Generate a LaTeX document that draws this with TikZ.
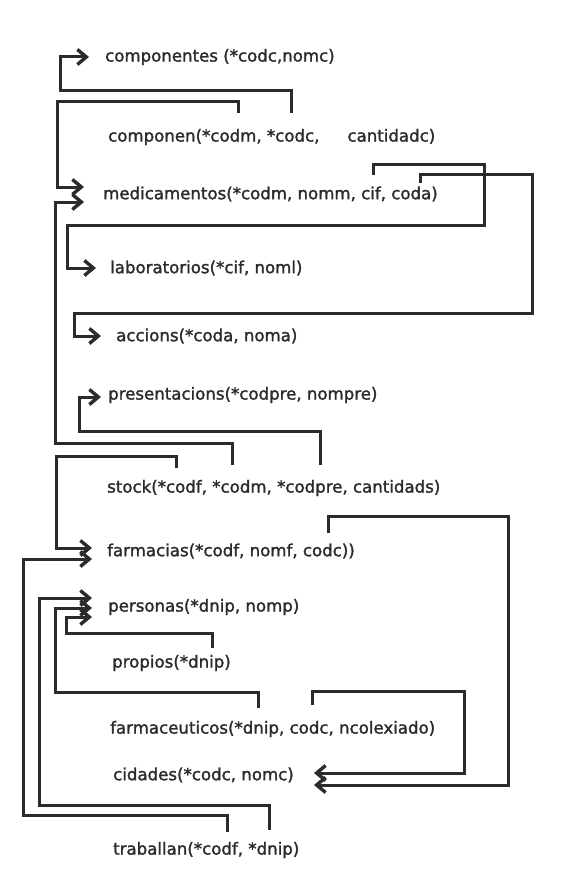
\documentclass[tikz,border=0pt]{standalone}
\usepackage{fontspec}
\setmainfont{DejaVu Sans}[FakeBold=1.6]
\usetikzlibrary{arrows.meta,calc}
\definecolor{ink}{HTML}{2B2B2B}
\begin{document}
\begin{tikzpicture}[x=1pt,y=-1pt,
  rel/.style={anchor=west,inner sep=0pt,font=\fontsize{16.6}{18}\selectfont,text=ink},
  fk/.style={draw=ink,line width=3pt,-{Straight Barb[length=9pt,width=15pt,line width=3.4pt]}}]
\fill[white] (0,0) rectangle (588,869);
\useasboundingbox (0,0) rectangle (588,869);

% relations
\node[rel] (componentes) at (105,57) {componentes (*codc,nomc)};
\node[rel] (componen) at (108,137) {componen(*codm, *codc,\hspace{28pt}cantidadc)};
\node[rel] (medicamentos) at (103,194) {medicamentos(*codm, nomm, cif, coda)};
\node[rel] (laboratorios) at (110,268) {laboratorios(*cif, noml)};
\node[rel] (accions) at (116,336) {accions(*coda, noma)};
\node[rel] (presentacions) at (108,395) {presentacions(*codpre, nompre)};
\node[rel] (stock) at (107,488) {stock(*codf, *codm, *codpre, cantidads)};
\node[rel] (farmacias) at (107,551) {farmacias(*codf, nomf, codc))};
\node[rel] (personas) at (108,607) {personas(*dnip, nomp)};
\node[rel] (propios) at (112,663) {propios(*dnip)};
\node[rel] (farmaceuticos) at (110,729) {farmaceuticos(*dnip, codc, ncolexiado)};
\node[rel] (cidades) at (113,775) {cidades(*codc, nomc)};
\node[rel] (traballan) at (113,850) {traballan(*codf, *dnip)};

% foreign-key attribute stubs
\coordinate (cn-codc) at (291,113);
\coordinate (cn-codm) at (238,113);
\coordinate (md-cif) at (373,175);
\coordinate (md-coda) at (420,183);
\coordinate (st-codf) at (176,468);
\coordinate (st-codm) at (232,465);
\coordinate (st-codpre) at (320,465);
\coordinate (fa-codc) at (328,533);
\coordinate (pr-dnip) at (212,648);
\coordinate (fc-dnip) at (258,708);
\coordinate (fc-codc) at (312,705);
\coordinate (tr-codf) at (227,832);
\coordinate (tr-dnip) at (269,830);

% references
\draw[fk] (cn-codc) |- (60,91) |- ($(componentes.west)+(-16,0)$);
\draw[fk] (cn-codm) |- (57,102) |- ($(medicamentos.west)+(-19,-7)$);
\draw[fk] (st-codm) |- (55,443) |- ($(medicamentos.west)+(-19,8)$);
\draw[fk] (md-cif) |- (484,165) |- (67,225) |- ($(laboratorios.west)+(-14,0)$);
\draw[fk] (md-coda) |- (532,175) |- (74,313) |- ($(accions.west)+(-15,0)$);
\draw[fk] (st-codpre) |- (79,431) |- ($(presentacions.west)+(-7,2)$);
\draw[fk] (st-codf) |- (56,456) |- ($(farmacias.west)+(-15,-3)$);
\draw[fk] (tr-codf) |- (23,815) |- ($(farmacias.west)+(-15,8)$);
\draw[fk] (fa-codc) |- (508,516) |- ($(cidades.east)+(20,10)$);
\draw[fk] (fc-codc) |- (464,691) |- ($(cidades.east)+(20,-2)$);
\draw[fk] (tr-dnip) |- (39,805) |- ($(personas.west)+(-16,-9)$);
\draw[fk] (fc-dnip) |- (55,692) |- ($(personas.west)+(-16,1)$);
\draw[fk] (pr-dnip) |- (66,633) |- ($(personas.west)+(-16,10)$);
\end{tikzpicture}
\end{document}
